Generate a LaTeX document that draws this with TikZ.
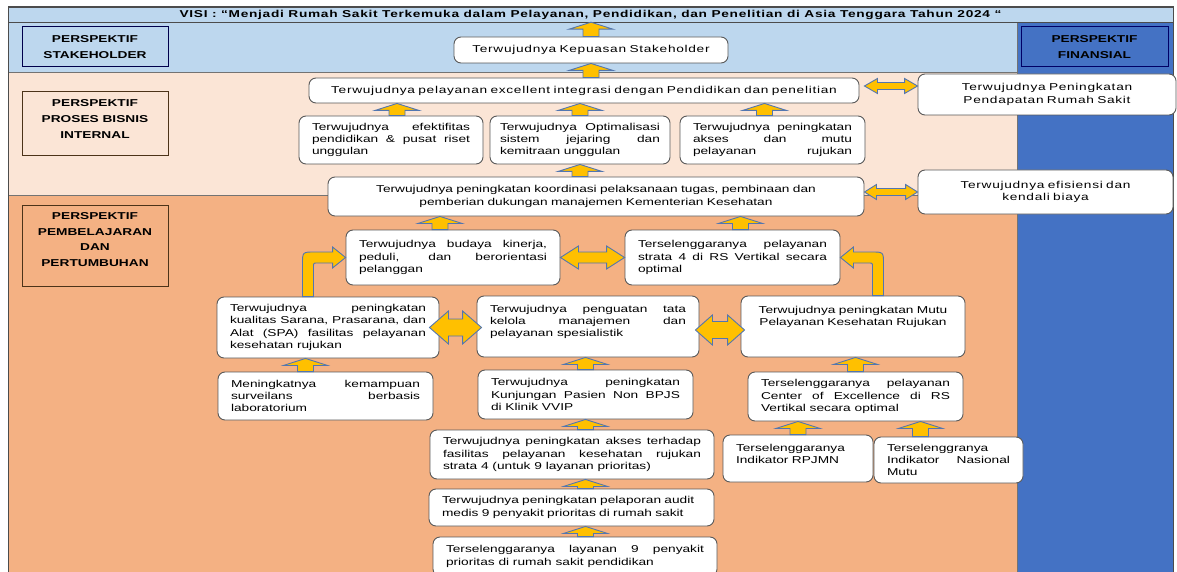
\documentclass[tikz,border=0pt]{standalone}
\usepackage{fontspec}
\setmainfont{Liberation Sans}[FakeStretch=1.37]
\newfontfamily\spacedfont{Liberation Sans}[FakeStretch=1.37, LetterSpace=7]
\usetikzlibrary{calc, positioning}
\definecolor{bandblue}{HTML}{BDD7EE}
\definecolor{finblue}{HTML}{4472C4}
\definecolor{bandpeach}{HTML}{FBE5D6}
\definecolor{bandorange}{HTML}{F4B183}
\definecolor{arrfill}{HTML}{FFC000}
\definecolor{arrline}{HTML}{5276B0}
\tikzset{
	goal/.style={rectangle, rounded corners=7pt, draw=black!65, fill=white, line width=0.9pt,
		inner xsep=13pt, inner ysep=0pt, align=justify, font=\fontsize{10}{12.3}\selectfont},
	goalc/.style={goal, align=center},
	goall/.style={goal, align=left},
	goalw/.style={goal, align=center, font=\spacedfont\fontsize{10}{12.3}\selectfont},
	persp/.style={rectangle, draw=#1, line width=1pt, align=center, inner sep=0pt,
		font=\fontsize{10}{15.8}\selectfont\bfseries},
	band/.style={draw=black!55, line width=0.6pt},
	blockarr/.style={draw=arrline, fill=arrfill, line width=0.9pt, line join=miter},
}
% yellow block arrows between goals
\newcommand{\upblk}[2]{%
	\draw[blockarr] let \p1=#1, \p2=#2 in
		(\x1-8pt,\y1) -- (\x1-8pt,\y2-7pt) -- (\x1-22pt,\y2-7pt) -- (\x1,\y2)
		-- (\x1+22pt,\y2-7pt) -- (\x1+8pt,\y2-7pt) -- (\x1+8pt,\y1) -- cycle;}
\newcommand{\dblblk}[5]{%
	\draw[blockarr] let \p1=#1, \p2=#2 in
		(\x1,\y1) -- (\x1+#5,\y1+#4) -- (\x1+#5,\y1+#3) -- (\x2-#5,\y1+#3)
		-- (\x2-#5,\y1+#4) -- (\x2,\y1) -- (\x2-#5,\y1-#4) -- (\x2-#5,\y1-#3)
		-- (\x1+#5,\y1-#3) -- (\x1+#5,\y1-#4) -- cycle;}
\newcommand{\bentblk}[3]{%
	\draw[blockarr] let \p1=#1, \p2=#2 in
		({\x1-(#3)*5.5pt},\y1) -- ({\x1-(#3)*5.5pt},{\y2+5.5pt-12pt})
		.. controls ({\x1-(#3)*5.5pt},{\y2+5.5pt}) .. ({\x1-(#3)*5.5pt+(#3)*12pt},{\y2+5.5pt})
		-- ({\x2-(#3)*13pt},{\y2+5.5pt}) -- ({\x2-(#3)*13pt},{\y2+10.5pt}) -- (\x2,\y2)
		-- ({\x2-(#3)*13pt},{\y2-10.5pt}) -- ({\x2-(#3)*13pt},{\y2-5.5pt})
		-- ({\x1+(#3)*9.5pt},{\y2-5.5pt})
		.. controls ({\x1+(#3)*5.5pt},{\y2-5.5pt}) .. ({\x1+(#3)*5.5pt},{\y2-9.5pt})
		-- ({\x1+(#3)*5.5pt},\y1) -- cycle;}

\begin{document}
\begin{tikzpicture}[x=1pt, y=-1pt]
	\useasboundingbox (0,0) rectangle (1177,572);
	% bands
	\draw[band, fill=bandblue] (8,22) rectangle (1017,72);
	\draw[band, fill=bandpeach] (8,72) rectangle (1017,195);
	\draw[band, fill=bandorange] (8,195) rectangle (1017,580);
	\draw[band, fill=finblue] (1017,22) rectangle (1173,580);
	\node[draw=black!70, fill=bandblue, minimum width=1165, minimum height=15, inner sep=0pt,
		font=\spacedfont\fontsize{10}{12}\selectfont\bfseries] (visi) at (590.5,14.5)
		{VISI : “Menjadi Rumah Sakit Terkemuka dalam Pelayanan, Pendidikan, dan Penelitian di Asia Tenggara Tahun 2024 “};
	\draw[black!70, line width=1pt] (8,7) rectangle (1173,580);

	% perspectives
	\node[persp=black!70!blue, fill=bandblue, minimum width=146, minimum height=40] (pstake) at (95,47) {PERSPEKTIF\\STAKEHOLDER};
	\node[persp=blue!40!black, fill=finblue, minimum width=147, minimum height=40] (pfin) at (1094.5,47) {PERSPEKTIF\\FINANSIAL};
	\node[persp=black!60!brown, fill=bandpeach, minimum width=146, minimum height=64, text depth=10pt] (pbis) at (95,124) {PERSPEKTIF\\PROSES BISNIS\\INTERNAL};
	\node[persp=black!60!brown, fill=bandorange, minimum width=146, minimum height=81, text depth=12pt] (pbel) at (95,245.5) {PERSPEKTIF\\PEMBELAJARAN\\DAN\\PERTUMBUHAN};

	% stakeholder and internal process
	\node[goalw, text width=248, minimum height=26] (kep) at (591,50) {Terwujudnya Kepuasan Stakeholder};
	\node[goalw, text width=524, minimum height=25] (excel) at (584,90.5) {Terwujudnya pelayanan excellent integrasi dengan Pendidikan dan penelitian};
	\node[goalw, text width=232, minimum height=41] (pend) at (1047,94.5) {Terwujudnya Peningkatan\\Pendapatan Rumah Sakit};
	\node[goal, text width=158, minimum height=48] (efek) at (391,140) {Terwujudnya efektifitas\linebreak pendidikan \& pusat riset\linebreak unggulan};
	\node[goal, inner xsep=10pt, text width=160, minimum height=48] (opt) at (580,140) {Terwujudnya Optimalisasi\linebreak sistem jejaring dan\linebreak kemitraan unggulan};
	\node[goal, text width=159, minimum height=48] (akses) at (772.5,140) {Terwujudnya peningkatan\linebreak akses dan mutu\linebreak pelayanan\hfill rujukan};
	\node[goalc, text width=510, minimum height=39] (koord) at (596,196.5) {Terwujudnya peningkatan koordinasi pelaksanaan tugas, pembinaan dan\\pemberian dukungan manajemen Kementerian Kesehatan};
	\node[goalw, text width=229, minimum height=44] (efis) at (1045.5,192) {Terwujudnya efisiensi dan\\kendali biaya};

	% learning and growth
	\node[goal, text width=188, minimum height=55] (bud) at (453,257.5) {Terwujudnya budaya kinerja,\linebreak peduli, dan berorientasi\linebreak pelanggan};
	\node[goal, text width=189, minimum height=55] (str4) at (732.5,257.5) {Terselenggaranya pelayanan\linebreak strata 4 di RS Vertikal secara\linebreak optimal};
	\node[goal, text width=196, minimum height=61] (sar) at (328,327.5) {Terwujudnya peningkatan\linebreak kualitas Sarana, Prasarana, dan\linebreak Alat (SPA) fasilitas pelayanan\linebreak kesehatan rujukan};
	\node[goal, text width=196, minimum height=61, text height=8pt, text depth=37pt] (tata) at (588,326.5) {Terwujudnya penguatan tata\linebreak kelola manajemen dan\linebreak pelayanan spesialistik};
	\node[goalc, text width=198, minimum height=61, text height=8pt, text depth=35pt] (mutu) at (853,326.5) {Terwujudnya peningkatan Mutu\\Pelayanan Kesehatan Rujukan};
	\node[goal, text width=189, minimum height=48] (surv) at (325.5,396) {Meningkatnya kemampuan\linebreak surveilans berbasis\linebreak laboratorium};
	\node[goal, text width=189, minimum height=49] (kunj) at (585.5,394.5) {Terwujudnya peningkatan\linebreak Kunjungan Pasien Non BPJS\linebreak di Klinik VVIP};
	\node[goal, text width=189, minimum height=49] (coe) at (855.5,396.5) {Terselenggaranya pelayanan\linebreak Center of Excellence di RS\linebreak Vertikal secara optimal};
	\node[goal, text width=258, minimum height=49] (aks4) at (572,454.5) {Terwujudnya peningkatan akses terhadap\linebreak fasilitas pelayanan kesehatan rujukan\linebreak strata 4 (untuk 9 layanan prioritas)};
	\node[goall, text width=124, minimum height=47, text height=8pt, text depth=23pt] (rpjmn) at (798,458.5) {Terselenggaranya\\Indikator RPJMN};
	\node[goal, text width=123, minimum height=46] (nas) at (948.5,460) {Terselenggranya\\Indikator Nasional\linebreak Mutu};
	\node[goall, text width=259, minimum height=37] (audit) at (571.5,507.5) {Terwujudnya peningkatan pelaporan audit\\medis 9 penyakit prioritas di rumah sakit};
	\node[goal, text width=258, minimum height=39] (lay) at (575,556.5) {Terselenggaranya layanan 9 penyakit\linebreak prioritas di rumah sakit pendidikan};

	% up arrows
	\upblk{(kep.north)}{(visi.south)}
	\upblk{(excel.north -| kep.south)}{(kep.south)}
	\upblk{($(efek.north)+(6,0)$)}{(excel.south)}
	\upblk{(opt.north)}{(excel.south)}
	\upblk{($(akses.north)+(-8,0)$)}{(excel.south)}
	\upblk{(koord.north -| opt.south)}{(opt.south)}
	\upblk{($(bud.north)+(-13,0)$)}{(koord.south)}
	\upblk{($(str4.north)+(8,0)$)}{(koord.south)}
	\upblk{($(surv.north)+(-20,0)$)}{(sar.south)}
	\upblk{(kunj.north)}{(tata.south)}
	\upblk{(aks4.north -| kunj.south)}{(kunj.south)}
	\upblk{(audit.north -| kunj.south)}{(aks4.south)}
	\upblk{(lay.north -| kunj.south)}{(audit.south)}
	\upblk{(coe.north)}{(mutu.south)}
	\upblk{(rpjmn.north)}{(coe.south)}
	\upblk{($(nas.north)+(-28,0)$)}{(coe.south)}

	% two-way arrows
	\dblblk{($(excel.east)+(5,-4.5)$)}{(pend.west)}{3.5pt}{7.5pt}{13pt}
	\dblblk{(koord.east |- efis.west)}{(efis.west)}{3.5pt}{7.5pt}{12pt}
	\dblblk{(bud.east)}{(str4.west)}{5.5pt}{11.5pt}{18pt}
	\dblblk{($(sar.east)+(-10,0)$)}{($(tata.west)+(5,0)$)}{8.5pt}{16.5pt}{19pt}
	\dblblk{($(tata.east)+(-4,3.5)$)}{($(mutu.west)+(4,0)$)}{8.5pt}{15pt}{17pt}

	% bent arrows
	\bentblk{($(sar.north)+(-20,0)$)}{(bud.west)}{1}
	\bentblk{($(mutu.north)+(25,0)$)}{(str4.east)}{-1}
\end{tikzpicture}
\end{document}
